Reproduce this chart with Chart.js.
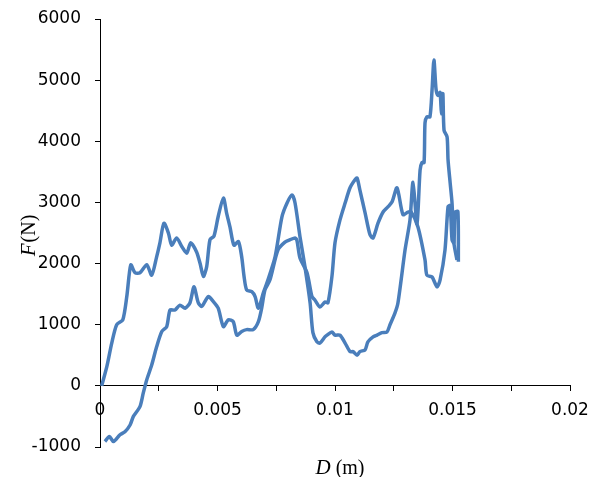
<!DOCTYPE html>
<html>
<head>
<meta charset="utf-8">
<script src="https://cdn.jsdelivr.net/npm/chart.js@4.4.0/dist/chart.umd.min.js"></script>
<style>
html,body{margin:0;padding:0;background:#fff;}
#wrap{width:589px;height:477px;position:relative;}
</style>
</head>
<body>
<div id="wrap"><canvas id="c" width="589" height="477"></canvas></div>
<script>
// Series A: curve starting at the origin (displacement m, force N)
const dispA = [0.00007,0.00029,0.0005,0.00071,0.00097,0.00114,0.00131,0.00149,0.0017,0.00199,0.0022,0.00241,0.00255,0.00272,0.00291,0.00305,0.00326,0.00348,0.00369,0.00386,0.00411,0.00426,0.0044,0.00454,0.00468,0.00485,0.00503,0.00525,0.00539,0.00553,0.0057,0.00589,0.00603,0.00613,0.00624,0.00646,0.0066,0.00674,0.00695,0.0071,0.00745,0.00774,0.00796,0.00817,0.0083,0.00851,0.00872,0.00894,0.00906,0.00923,0.00936,0.00957,0.00966,0.00987,0.01,0.01021,0.01043,0.01064,0.01077,0.01094,0.01106,0.01128,0.0114,0.01162,0.01179,0.012,0.01221,0.01234,0.01255,0.01268,0.01298,0.01319,0.01332,0.01349,0.01362,0.0137,0.01379,0.01383,0.01391,0.01404,0.01413,0.01421,0.0143,0.01438,0.01447,0.01453,0.01459,0.01464,0.01477,0.01481,0.0149,0.01498,0.01506,0.01519];
const forceA = [0,315,700,1000,1080,1460,1980,1850,1850,1980,1810,2110,2340,2660,2500,2300,2420,2280,2170,2340,2190,2000,1790,1950,2390,2450,2770,3070,2820,2600,2300,2360,2110,1790,1570,1540,1460,1270,1520,1680,2110,2760,2990,3120,2990,2440,1950,1360,870,720,700,800,830,880,830,830,700,560,560,500,560,590,720,800,830,870,880,1000,1190,1360,2220,2710,3330,2650,3530,3650,3650,4300,4400,4400,4840,5330,4850,4750,4800,4450,4780,4180,4070,3700,3320,2990,2340,2060];
// Series B: curve starting below zero
const dispB = [0.00021,0.0004,0.00057,0.00085,0.00106,0.00128,0.00142,0.0017,0.00184,0.00199,0.0022,0.00241,0.00263,0.00284,0.00298,0.00319,0.0034,0.00362,0.00383,0.004,0.00418,0.00433,0.00461,0.00482,0.00503,0.00525,0.00546,0.00567,0.00582,0.00603,0.00624,0.00652,0.00674,0.00688,0.00702,0.00723,0.00757,0.00787,0.00809,0.0083,0.00838,0.00851,0.00881,0.00902,0.00915,0.00936,0.00957,0.0097,0.00987,0.01,0.01021,0.01043,0.01064,0.01085,0.01094,0.01106,0.01128,0.01149,0.01162,0.01183,0.01204,0.01226,0.01243,0.01264,0.01289,0.0131,0.01323,0.01353,0.01383,0.01391,0.01413,0.01434,0.01447,0.01468,0.01481,0.0149,0.01498,0.01506,0.01511,0.01523,0.01525];
const forceB = [-910,-830,-910,-800,-750,-640,-500,-340,-120,100,340,640,890,970,1240,1240,1320,1270,1360,1620,1360,1300,1460,1380,1270,970,1080,1050,830,890,920,920,1050,1270,1570,1730,2220,2350,2390,2420,2380,2090,1850,1460,1400,1290,1370,1360,1790,2340,2710,2990,3240,3370,3400,3200,2830,2470,2420,2660,2840,2930,3010,3240,2800,2840,2850,2600,2060,1810,1780,1620,1730,2220,2930,2950,2390,2340,2840,2850,2030];
// Axis tick values
const xTicks = [0,0.005,0.01,0.015,0.02];
const yTicks = [-1000,0,1000,2000,3000,4000,5000,6000];

const toPts = (xs, ys) => xs.map((x, i) => ({x: x, y: ys[i]}));
const lineColor = '#4a7ebb';
const tickFont = {family: 'DejaVu Sans', size: 17};
const noPad = s => { s.paddingTop = 0; s.paddingBottom = 0; s.paddingLeft = 0; s.paddingRight = 0; };

const titlePlugin = {
  id: 'axisTitles',
  afterDraw(chart) {
    const ctx = chart.ctx;
    ctx.save();
    ctx.fillStyle = '#000';
    ctx.textBaseline = 'alphabetic';
    const fi = 'italic 21px "Liberation Serif"';
    const fn = '20px "Liberation Serif"';
    ctx.font = fi; const w1 = ctx.measureText('D').width;
    ctx.font = fn; const w2 = ctx.measureText(' (m)').width;
    let x0 = 340 - (w1 + w2) / 2;
    const yb = 474;
    ctx.font = fi; ctx.textAlign = 'left'; ctx.fillText('D', x0, yb);
    ctx.font = fn; ctx.fillText(' (m)', x0 + w1, yb);
    ctx.translate(35, 236);
    ctx.rotate(-Math.PI / 2);
    ctx.font = fi; const v1 = ctx.measureText('F').width;
    ctx.font = fn; const v2 = ctx.measureText('(N)').width;
    let s0 = -(v1 + v2) / 2;
    ctx.font = fi; ctx.fillText('F', s0, 0);
    ctx.font = fn; ctx.fillText('(N)', s0 + v1 + 1, 0);
    ctx.restore();
  }
};

new Chart(document.getElementById('c'), {
  type: 'scatter',
  data: {
    datasets: [
      {data: toPts(dispA, forceA), showLine: true, borderColor: lineColor, borderWidth: 3.5, pointRadius: 0, tension: 0.25, fill: false},
      {data: toPts(dispB, forceB), showLine: true, borderColor: lineColor, borderWidth: 3.5, pointRadius: 0, tension: 0.25, fill: false}
    ]
  },
  options: {
    responsive: false,
    animation: false,
    layout: {padding: {top: 19, right: 19, bottom: 30, left: 0}},
    plugins: {legend: {display: false}, tooltip: {enabled: false}},
    scales: {
      x: {
        type: 'linear', min: 0, max: 0.02,
        position: {y: 0},
        afterBuildTicks(s) {
          const t = [];
          for (let i = 0; i < xTicks.length; i++) {
            t.push({value: xTicks[i]});
            if (i < xTicks.length - 1) t.push({value: (xTicks[i] + xTicks[i + 1]) / 2, minor: true});
          }
          s.ticks = t;
        },
        afterFit: noPad,
        ticks: {
          autoSkip: false, maxRotation: 0, color: '#000', font: tickFont, padding: 10,
          callback(v) { return xTicks.some(t => Math.abs(t - v) < 1e-9) ? String(+v.toFixed(4)) : ''; }
        },
        grid: {drawOnChartArea: false, drawTicks: true, tickLength: 5, color: '#000', lineWidth: 1},
        border: {display: true, color: '#000', width: 1}
      },
      y: {
        type: 'linear', min: -1000, max: 6000,
        afterBuildTicks(s) { s.ticks = yTicks.map(v => ({value: v})); },
        afterFit(s) { s.width = 100; noPad(s); },
        ticks: {color: '#000', font: tickFont, padding: 14, callback(v) { return String(v); }},
        grid: {drawOnChartArea: false, drawTicks: true, tickLength: 5, color: '#000', lineWidth: 1},
        border: {display: true, color: '#000', width: 1}
      }
    }
  },
  plugins: [titlePlugin]
});
</script>
</body>
</html>
